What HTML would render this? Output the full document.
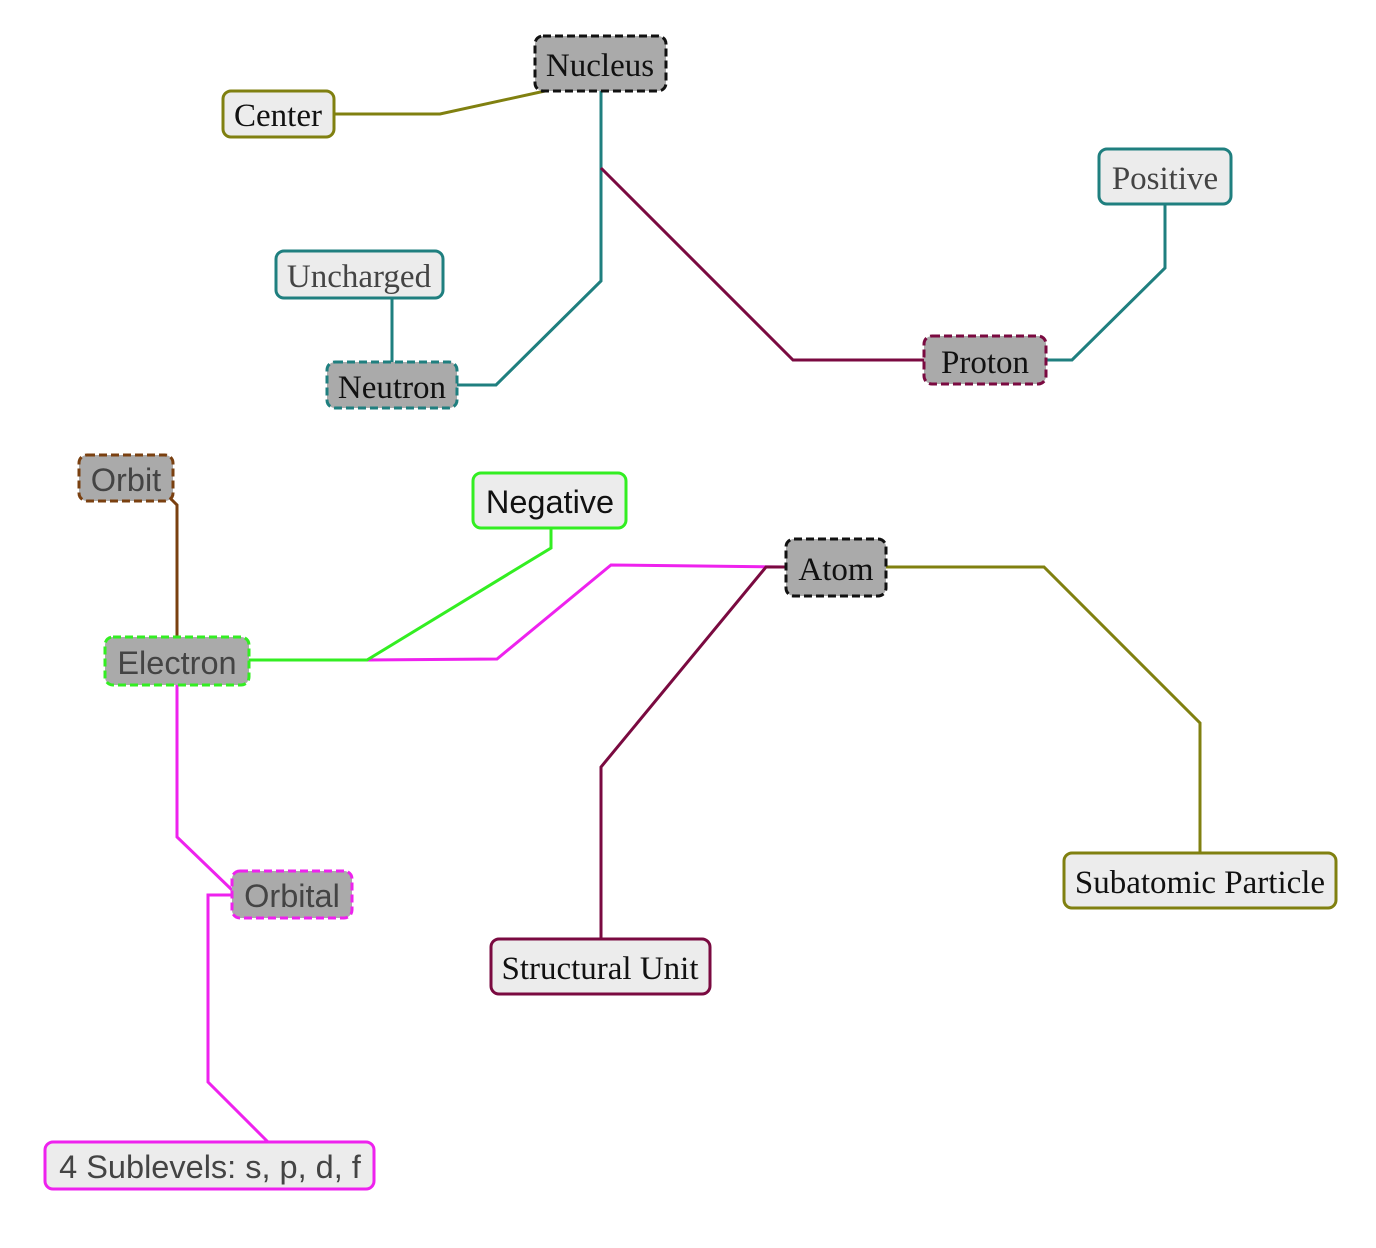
<!DOCTYPE html>
<html><head><meta charset="utf-8"><style>body{margin:0;background:#fff}svg{display:block}
.s{font-family:"Liberation Serif",serif;font-size:33px}.a{font-family:"Liberation Sans",sans-serif;font-size:32.5px}</style></head>
<body><svg width="1376" height="1248" viewBox="0 0 1376 1248" xmlns="http://www.w3.org/2000/svg">
<g fill="none" stroke-width="3">
<polyline points="334,114 440,114 545,91" stroke="#808010"/>
<polyline points="601,91 601,281 496,385 457,385" stroke="#1f7f7f"/>
<polyline points="601,168 793,360 924,360" stroke="#7a0a40"/>
<polyline points="392,298 392,362" stroke="#1f7f7f"/>
<polyline points="1046,360 1072,360 1165,268 1165,204" stroke="#1f7f7f"/>
<polyline points="170,498 177,505 177,637" stroke="#7a4010"/>
<polyline points="367,660 497,659 611,565 786,567" stroke="#ee22ee"/>
<polyline points="249,660 367,660 551,548 551,528" stroke="#33ee22"/>
<polyline points="786,567 766,567 601,767 601,939" stroke="#7a0a40"/>
<polyline points="886,567 1044,567 1200,723 1200,853" stroke="#808010"/>
<polyline points="177,685 177,837 232,890" stroke="#ee22ee"/>
<polyline points="232,895 208,895 208,1082 268,1142" stroke="#ee22ee"/>
</g>
<g stroke-width="3">
<rect x="535" y="36" width="131" height="55" rx="8" fill="#aaa" stroke="#111" stroke-dasharray="8,4"/>
<rect x="223" y="91" width="111" height="46" rx="8" fill="#ececec" stroke="#808010"/>
<rect x="276" y="251" width="167" height="47" rx="8" fill="#ececec" stroke="#1f7f7f"/>
<rect x="327" y="362" width="130" height="46" rx="8" fill="#aaa" stroke="#1f7f7f" stroke-dasharray="8,4"/>
<rect x="1099" y="149" width="132" height="55" rx="8" fill="#ececec" stroke="#1f7f7f"/>
<rect x="924" y="336" width="122" height="48" rx="8" fill="#aaa" stroke="#7a0a40" stroke-dasharray="8,4"/>
<rect x="79" y="455" width="94" height="46" rx="8" fill="#aaa" stroke="#7a4010" stroke-dasharray="8,4"/>
<rect x="473" y="473" width="153" height="55" rx="8" fill="#ececec" stroke="#33ee22"/>
<rect x="786" y="539" width="100" height="57" rx="8" fill="#aaa" stroke="#111" stroke-dasharray="8,4"/>
<rect x="105" y="637" width="144" height="48" rx="8" fill="#aaa" stroke="#33ee22" stroke-dasharray="8,4"/>
<rect x="232" y="871" width="120" height="47" rx="8" fill="#aaa" stroke="#ee22ee" stroke-dasharray="8,4"/>
<rect x="491" y="939" width="219" height="55" rx="8" fill="#ececec" stroke="#7a0a40"/>
<rect x="1064" y="853" width="272" height="55" rx="8" fill="#ececec" stroke="#808010"/>
<rect x="45" y="1142" width="329" height="47" rx="8" fill="#ececec" stroke="#ee22ee"/>
</g>
<g text-anchor="middle">
<text class="s" x="600" y="76" fill="#111">Nucleus</text>
<text class="s" x="278" y="126" fill="#111">Center</text>
<text class="s" x="359" y="287" fill="#444">Uncharged</text>
<text class="s" x="392" y="398" fill="#111">Neutron</text>
<text class="s" x="1165" y="189" fill="#444">Positive</text>
<text class="s" x="985" y="373" fill="#111">Proton</text>
<text class="a" x="126" y="491" fill="#444">Orbit</text>
<text class="a" x="550" y="513" fill="#111">Negative</text>
<text class="s" x="836" y="580" fill="#111">Atom</text>
<text class="a" x="177" y="674" fill="#444">Electron</text>
<text class="a" x="292" y="907" fill="#444">Orbital</text>
<text class="s" x="600" y="979" fill="#111">Structural Unit</text>
<text class="s" x="1200" y="893" fill="#111">Subatomic Particle</text>
<text class="a" x="210" y="1178" fill="#444">4 Sublevels: s, p, d, f</text>
</g>
</svg></body></html>
